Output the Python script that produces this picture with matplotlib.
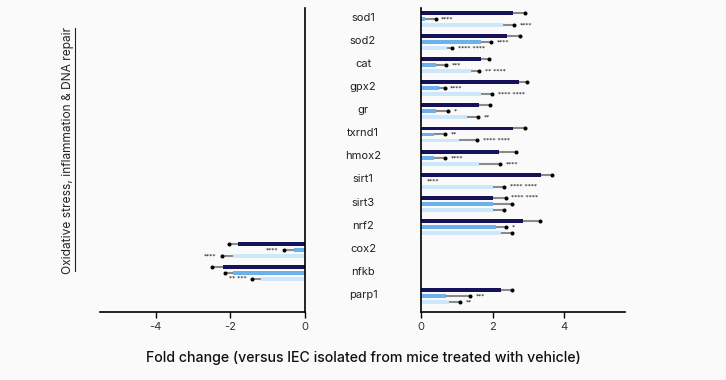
import matplotlib
matplotlib.use("Agg")
import matplotlib.pyplot as plt
import matplotlib.transforms as mtransforms
from matplotlib.lines import Line2D

plt.rcParams['font.family'] = ['Inter', 'DejaVu Sans']
plt.rcParams['axes.unicode_minus'] = False

genes = ["sod1", "sod2", "cat", "gpx2", "gr", "txrnd1", "hmox2",
         "sirt1", "sirt3", "nrf2", "cox2", "nfkb", "parp1"]

# three treatment groups per gene (dark, mid, light)
dark = [2.56, 2.40, 1.68, 2.74, 1.61, 2.56, 2.17, 3.36, 2.00, 2.84, -1.81, -2.19, 2.23]
dark_err = [0.33, 0.35, 0.22, 0.21, 0.32, 0.33, 0.47, 0.31, 0.36, 0.47, 0.24, 0.31, 0.32]
mid = [0.10, 1.68, 0.42, 0.49, 0.43, 0.37, 0.37, 0.00, 2.00, 2.08, -0.29, -1.92, 0.70]
mid_err = [0.31, 0.28, 0.28, 0.17, 0.32, 0.31, 0.31, 0.00, 0.55, 0.30, 0.28, 0.22, 0.67]
light = [2.28, 0.72, 1.39, 1.68, 1.28, 1.05, 1.61, 2.00, 2.00, 2.23, -1.94, -1.18, 0.78]
light_err = [0.33, 0.15, 0.23, 0.31, 0.31, 0.52, 0.60, 0.33, 0.33, 0.32, 0.29, 0.24, 0.31]

dark_sig = ["", "", "", "", "", "", "", "", "**** ****", "", "", "", ""]
mid_sig = ["****", "****", "***", "****", "*", "**", "****", "****", "", "*", "****", "", "***"]
light_sig = ["****", "**** ****", "** ****", "**** ****", "**", "**** ****", "****",
             "**** ****", "", "", "****", "** ***", "**"]

colors = ["#16125a", "#6cb0ee", "#cde8fb"]
bg = "#fafafa"

fig = plt.figure(figsize=(7.26, 3.8), dpi=100, facecolor=bg)
axL = fig.add_axes([0.1377, 0.179, 0.2824, 0.8])
axR = fig.add_axes([0.580, 0.179, 0.281, 0.8])

offsets = [-0.26, 0.0, 0.26]
h = 0.17
series = [(dark, dark_err, dark_sig), (mid, mid_err, mid_sig), (light, light_err, light_sig)]

for ax in (axL, axR):
    ax.set_facecolor(bg)
    ax.set_ylim(12.69, -0.48)
    ax.set_yticks([])
    ax.tick_params(axis="x", direction="out", length=4, width=1, labelsize=8,
                   labelcolor="#333333", pad=3)
    for s in ax.spines.values():
        s.set_linewidth(1.2)

axL.set_xlim(-5.5, 0)
axL.set_xticks([-4, -2, 0])
axL.spines["top"].set_visible(False)
axL.spines["left"].set_visible(False)

axR.set_xlim(0, 5.7)
axR.set_xticks([0, 2, 4])
axR.spines["top"].set_visible(False)
axR.spines["right"].set_visible(False)

for k, (vals, errs, sigs) in enumerate(series):
    for i, g in enumerate(genes):
        v, e, sg = vals[i], errs[i], sigs[i]
        y = i + offsets[k]
        ax = axL if v < 0 else axR
        sign = -1 if v < 0 else 1
        if v != 0:
            ax.barh(y, v, height=h, color=colors[k], zorder=2)
        if e > 0:
            end = v + sign * e
            ax.plot([v, end], [y, y], color="#8a8a8a", lw=1.5, zorder=3,
                    solid_capstyle="butt")
            ax.plot([end], [y], marker="o", ms=1.9, color="black", zorder=4)
        else:
            end = v
        if sg:
            ax.annotate(sg, xy=(end, y), xytext=(sign * 4, 0), textcoords="offset points",
                        ha="left" if sign > 0 else "right", va="center",
                        fontsize=4.5, color="black", family="DejaVu Sans")

trans = mtransforms.blended_transform_factory(fig.transFigure, axR.transData)
for i, g in enumerate(genes):
    fig.text(0.5, i - 0.05, g, transform=trans, ha="center", va="center",
             fontsize=8, color="#222222")

fig.text(0.093, 1 - 150 / 380, "Oxidative stress, inflammation & DNA repair", rotation=90,
         ha="center", va="center", fontsize=8.6, color="#222222")
fig.add_artist(Line2D([0.1035, 0.1035], [1 - 271 / 380, 1 - 28 / 380],
                      transform=fig.transFigure, color="#222222", lw=0.8))

fig.text(0.5, 0.058, "Fold change (versus IEC isolated from mice treated with vehicle)",
         ha="center", va="center", fontsize=10.2, fontweight="medium", color="#111111")

fig.savefig("out.png", dpi=100, facecolor=bg)
